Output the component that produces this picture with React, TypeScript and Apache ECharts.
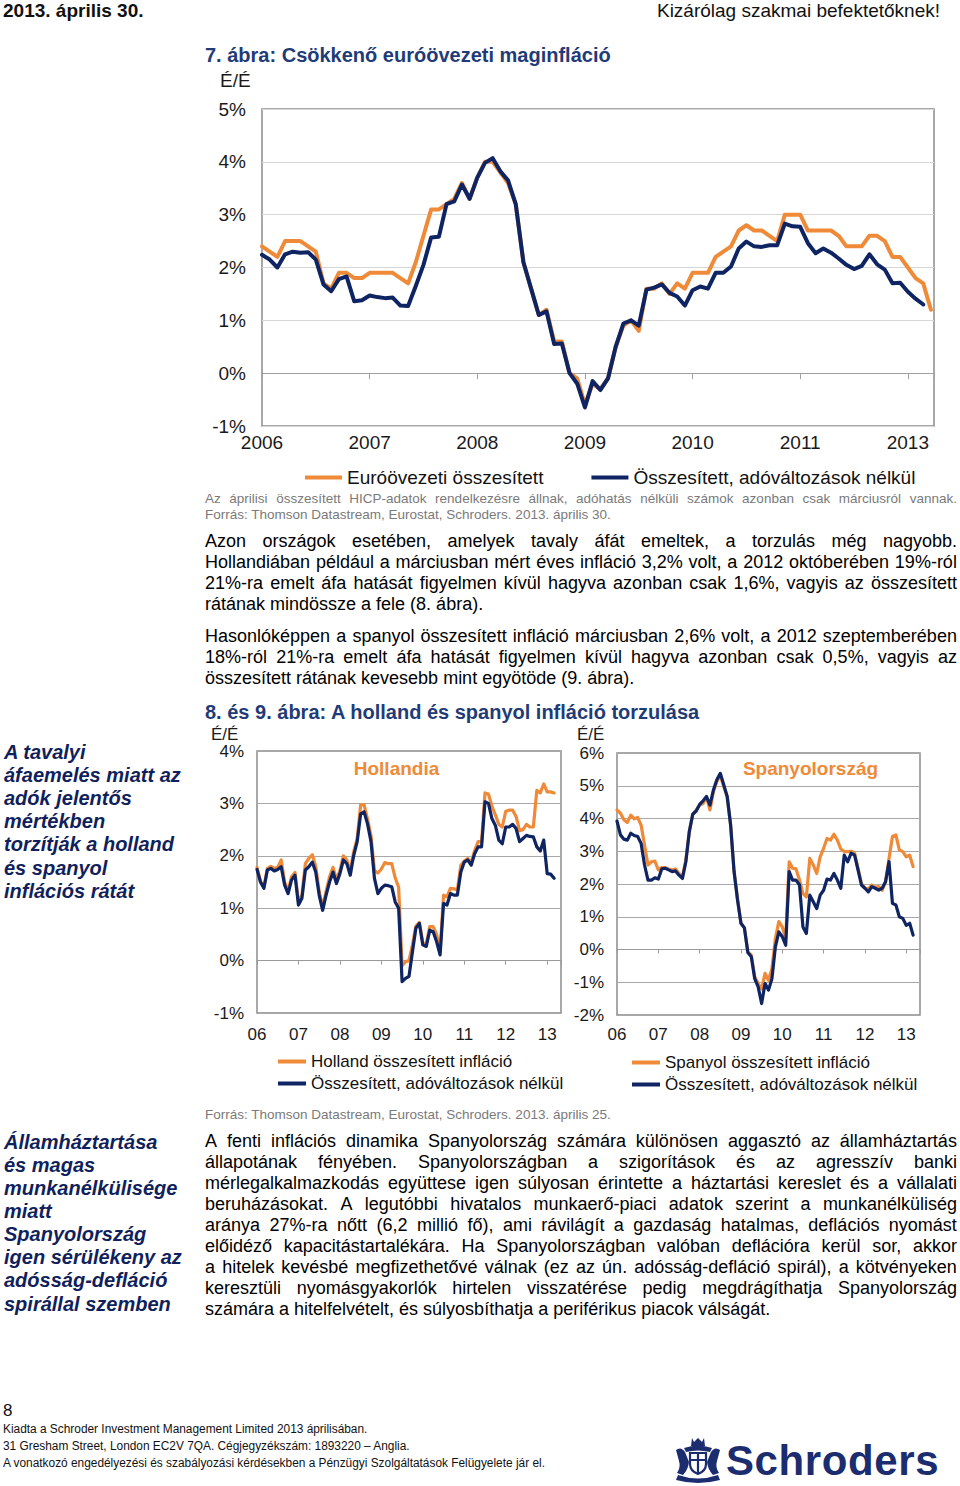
import React, { useEffect, useRef } from 'react';
import * as echarts from 'echarts';

const FONT = '"Liberation Sans", Arial, Helvetica, sans-serif';
const ORANGE = '#EE8A38';
const NAVY = '#0E2463';
const TITLE_BLUE = '#1F3C78';
const SIDE_NAVY = '#111F5C';

// ---------- data ----------
const mainTickLabels = ['2006', '2007', '2008', '2009', '2010', '2011', '2013'];
const smallTickLabels = ['06', '07', '08', '09', '10', '11', '12', '13'];

const seriesNames = {
  euroHeadline: 'Euróövezeti összesített',
  constantTax: 'Összesített, adóváltozások nélkül',
  nlHeadline: 'Holland összesített infláció',
  esHeadline: 'Spanyol összesített infláció',
};

// Eurozone, monthly Jan 2006 - Apr 2013
const euroHeadline = [
  2.4, 2.3, 2.2, 2.5, 2.5, 2.5, 2.4, 2.3, 1.7, 1.6, 1.9, 1.9,
  1.8, 1.8, 1.9, 1.9, 1.9, 1.9, 1.8, 1.7, 2.1, 2.6, 3.1, 3.1,
  3.2, 3.3, 3.6, 3.3, 3.7, 4.0, 4.0, 3.8, 3.6, 3.2, 2.1, 1.6,
  1.1, 1.2, 0.6, 0.6, 0.0, -0.1, -0.6, -0.2, -0.3, -0.1, 0.5, 0.9,
  1.0, 0.8, 1.6, 1.6, 1.7, 1.5, 1.7, 1.6, 1.9, 1.9, 1.9, 2.2,
  2.3, 2.4, 2.7, 2.8, 2.7, 2.7, 2.6, 2.5, 3.0, 3.0, 3.0, 2.7,
  2.7, 2.7, 2.7, 2.6, 2.4, 2.4, 2.4, 2.6, 2.6, 2.5, 2.2, 2.2,
  2.0, 1.8, 1.7, 1.2,
];
// Eurozone constant tax, Jan 2006 - Mar 2013
const euroConstTax = [
  2.24, 2.15, 2.0, 2.25, 2.3, 2.28, 2.29, 2.15, 1.68, 1.55, 1.78, 1.83,
  1.36, 1.38, 1.47, 1.44, 1.42, 1.43, 1.28, 1.27, 1.65, 2.05, 2.57, 2.58,
  3.2, 3.25, 3.57, 3.3, 3.7, 3.98, 4.07, 3.82, 3.65, 3.2, 2.1, 1.6,
  1.1, 1.17, 0.55, 0.56, 0.0, -0.2, -0.65, -0.15, -0.32, -0.1, 0.5, 0.94,
  1.0, 0.9, 1.58, 1.62, 1.68, 1.52, 1.45, 1.28, 1.57, 1.64, 1.6, 1.9,
  1.9, 2.02, 2.36, 2.49, 2.4, 2.39, 2.42, 2.42, 2.83, 2.78, 2.77, 2.46,
  2.27, 2.36, 2.28, 2.17, 2.05, 1.97, 2.03, 2.25, 2.06, 1.96, 1.7, 1.71,
  1.54, 1.41, 1.3,
];
// Netherlands, Jan 2006 - Mar 2013
const nlHeadline = [
  1.78, 1.52, 1.4, 1.76, 1.8, 1.76, 1.78, 1.92, 1.5, 1.33, 1.6, 1.68,
  1.12, 1.25, 1.85, 1.95, 2.02, 1.8, 1.32, 1.02, 1.32, 1.6, 1.78, 1.55,
  1.72, 2.0, 1.92, 1.7, 2.08, 2.33, 2.97, 2.97, 2.7, 2.38, 1.72, 1.67,
  1.75, 1.87, 1.85, 1.85, 1.58, 1.4, -0.1, -0.02, 0.0, 0.3, 0.66, 0.73,
  0.34, 0.32, 0.65, 0.65, 0.5, 0.18, 1.25, 1.22, 1.38, 1.37, 1.35, 1.82,
  1.9, 1.95, 1.87, 2.1, 2.27, 2.27, 3.2, 3.18, 2.95, 2.78, 2.6, 2.55,
  2.85, 2.87, 2.87, 2.75, 2.48, 2.5, 2.6, 2.55, 2.55, 3.25, 3.2, 3.37,
  3.22, 3.22, 3.2,
];
const nlConstTax = [
  1.74, 1.5, 1.38, 1.73, 1.76, 1.71, 1.74, 1.79, 1.44, 1.28, 1.54, 1.63,
  1.06, 1.19, 1.73, 1.79, 1.88, 1.69, 1.25, 0.96, 1.25, 1.5, 1.69, 1.47,
  1.66, 1.92, 1.85, 1.63, 2.01, 2.27, 2.8, 2.84, 2.61, 2.27, 1.57, 1.28,
  1.38, 1.44, 1.43, 1.41, 1.12, 1.0, -0.4, -0.34, -0.3, 0.17, 0.62, 0.71,
  0.3, 0.27, 0.58, 0.55, 0.36, 0.11, 1.09, 1.06, 1.28, 1.25, 1.25, 1.69,
  1.88, 1.92, 1.82, 2.04, 2.17, 2.17, 3.03, 3.0, 2.71, 2.58, 2.3, 2.23,
  2.55, 2.55, 2.6, 2.52, 2.27, 2.33, 2.39, 2.37, 2.36, 2.17, 2.09, 2.3,
  1.66, 1.65, 1.57,
];
// Spain, Jan 2006 - Mar 2013
const esHeadline = [
  4.26, 4.16, 3.96, 3.88, 4.1, 3.99, 4.03, 3.8, 3.19, 2.58, 2.68, 2.7,
  2.43, 2.5, 2.5, 2.46, 2.43, 2.46, 2.32, 2.22, 2.73, 3.6, 4.13, 4.26,
  4.41, 4.46, 4.67, 4.26, 4.82, 5.13, 5.33, 4.97, 4.67, 3.8, 2.38, 1.56,
  0.8, 0.66, -0.07, -0.17, -0.84, -1.04, -1.2, -0.73, -0.94, -0.58, 0.34, 0.85,
  0.69, 0.34, 2.68, 2.48, 2.46, 2.12, 1.71, 1.61, 2.78, 2.58, 2.32, 2.83,
  3.09, 3.39, 3.34, 3.52, 3.34, 3.07, 2.99, 2.99, 3.0, 2.94, 2.48, 2.02,
  1.87, 1.85, 1.97, 1.9, 1.92, 1.81, 2.07, 2.78, 3.45, 3.5, 3.04, 2.99,
  2.83, 2.88, 2.53,
];
const esConstTax = [
  3.92, 3.5, 3.37, 3.34, 3.55, 3.48, 3.45, 3.24, 2.58, 2.12, 2.12, 2.19,
  2.15, 2.46, 2.48, 2.43, 2.38, 2.4, 2.27, 2.17, 2.68, 3.6, 4.13, 4.23,
  4.43, 4.54, 4.67, 4.41, 4.87, 5.18, 5.38, 5.03, 4.67, 3.8, 2.38, 1.51,
  0.8, 0.66, -0.09, -0.22, -0.89, -1.14, -1.65, -1.04, -1.24, -0.89, 0.08, 0.54,
  0.39, 0.13, 2.38, 2.12, 2.12, 1.97, 0.69, 0.49, 1.66, 1.46, 1.25, 1.66,
  1.81, 2.15, 2.12, 2.32, 2.12, 1.87, 2.88, 2.68, 2.94, 2.88, 2.43, 1.97,
  1.87, 1.76, 1.92, 1.87, 1.81, 1.87, 2.07, 2.68, 1.41, 1.36, 1.0, 0.95,
  0.74, 0.8, 0.44,
];

// ---------- texts ----------
const headerLeft = '2013. április 30.';
const headerRight = 'Kizárólag szakmai befektetőknek!';
const chart7Title = '7. ábra: Csökkenő euróövezeti maginfláció';
const chart89Title = '8. és 9. ábra: A holland és spanyol infláció torzulása';
const note7 = [
  'Az áprilisi összesített HICP-adatok rendelkezésre állnak, adóhatás nélküli számok azonban csak márciusról vannak.',
  'Forrás: Thomson Datastream, Eurostat, Schroders. 2013. április 30.',
];
const source89 = 'Forrás: Thomson Datastream, Eurostat, Schroders. 2013. április 25.';
const para1 = [
  'Azon országok esetében, amelyek tavaly áfát emeltek, a torzulás még nagyobb.',
  'Hollandiában például a márciusban mért éves infláció 3,2% volt, a 2012 októberében 19%-ról',
  '21%-ra emelt áfa hatását figyelmen kívül hagyva azonban csak 1,6%, vagyis az összesített',
  'rátának mindössze a fele (8. ábra).',
];
const para2 = [
  'Hasonlóképpen a spanyol összesített infláció márciusban 2,6% volt, a 2012 szeptemberében',
  '18%-ról 21%-ra emelt áfa hatását figyelmen kívül hagyva azonban csak 0,5%, vagyis az',
  'összesített rátának kevesebb mint egyötöde (9. ábra).',
];
const para3 = [
  'A fenti inflációs dinamika Spanyolország számára különösen aggasztó az államháztartás',
  'állapotának fényében. Spanyolországban a szigorítások és az agresszív banki',
  'mérlegalkalmazkodás együttese igen súlyosan érintette a háztartási kereslet és a vállalati',
  'beruházásokat. A legutóbbi hivatalos munkaerő-piaci adatok szerint a munkanélküliség',
  'aránya 27%-ra nőtt (6,2 millió fő), ami rávilágít a gazdaság hatalmas, deflációs nyomást',
  'előidéző kapacitástartalékára. Ha Spanyolországban valóban deflációra kerül sor, akkor',
  'a hitelek kevésbé megfizethetővé válnak (ez az ún. adósság-defláció spirál), a kötvényeken',
  'keresztüli nyomásgyakorlók hirtelen visszatérése pedig megdrágíthatja Spanyolország',
  'számára a hitelfelvételt, és súlyosbíthatja a periférikus piacok válságát.',
];
const side1 = [
  'A tavalyi', 'áfaemelés miatt az', 'adók jelentős', 'mértékben',
  'torzítják a holland', 'és spanyol', 'inflációs rátát',
];
const side2 = [
  'Államháztartása', 'és magas', 'munkanélkülisége', 'miatt',
  'Spanyolország', 'igen sérülékeny az', 'adósság-defláció', 'spirállal szemben',
];
const footer = [
  'Kiadta a Schroder Investment Management Limited 2013 áprilisában.',
  '31 Gresham Street, London EC2V 7QA. Cégjegyzékszám: 1893220 – Anglia.',
  'A vonatkozó engedélyezési és szabályozási kérdésekben a Pénzügyi Szolgáltatások Felügyelete jár el.',
];

// ---------- option ----------
const toXY = (arr: number[]) => arr.map((v, i) => [i, v]);

function tickFormatter(labels: string[], step: number) {
  return (v: number) => {
    const k = Math.round(v / step);
    return Math.abs(v - k * step) < 1e-6 && labels[k] !== undefined ? labels[k] : '';
  };
}

function buildOption() {
  const grids = [
    { left: 262, top: 109, width: 672, height: 317 },
    { left: 257, top: 751, width: 304, height: 262 },
    { left: 617, top: 753, width: 303, height: 262 },
  ].map((g) => ({ ...g, show: true, borderColor: '#8c8c8c', borderWidth: 1.5, backgroundColor: 'transparent' }));

  const xCfg = [
    { max: 87.4, interval: 14, labels: mainTickLabels, size: 19, margin: 7, tick: 6, zeroColor: '#a0a0a0' },
    { max: 88, interval: 12, labels: smallTickLabels, size: 17, margin: 13, tick: 4, zeroColor: '#9a9a9a' },
    { max: 88, interval: 12, labels: smallTickLabels, size: 17, margin: 11, tick: 4, zeroColor: '#9a9a9a' },
  ];
  const xAxis: any[] = [];
  xCfg.forEach((c, g) => {
    xAxis.push({
      type: 'value', gridIndex: g, min: 0, max: c.max, interval: c.interval,
      axisLine: { show: true, onZero: true, lineStyle: { color: c.zeroColor, width: 1 } },
      axisTick: { show: true, length: c.tick, lineStyle: { color: c.zeroColor } },
      axisLabel: { show: false },
      splitLine: { show: false },
    });
    xAxis.push({
      type: 'value', gridIndex: g, min: 0, max: c.max, interval: c.interval, position: 'bottom',
      axisLine: { show: false, onZero: false },
      axisTick: { show: false },
      splitLine: { show: false },
      axisLabel: {
        show: true, margin: c.margin, fontSize: c.size, fontFamily: FONT, color: '#1a1a1a',
        formatter: tickFormatter(c.labels, c.interval), showMinLabel: true, showMaxLabel: true,
      },
    });
  });

  const yCfg = [
    { min: -1, max: 5, size: 19, margin: 16, split: '#d6d6d6' },
    { min: -1, max: 4, size: 17, margin: 13, split: '#a8a8a8' },
    { min: -2, max: 6, size: 17, margin: 13, split: '#a8a8a8' },
  ];
  const yAxis = yCfg.map((c, g) => ({
    type: 'value', gridIndex: g, min: c.min, max: c.max, interval: 1,
    axisLine: { show: false }, axisTick: { show: false },
    splitLine: { show: true, lineStyle: { color: c.split, width: 1 } },
    axisLabel: { margin: c.margin, fontSize: c.size, fontFamily: FONT, color: '#1a1a1a', formatter: '{value}%' },
  }));

  const line = (name: string, data: number[], color: string, g: number, width: number, z: number) => ({
    type: 'line', name, data: toXY(data), xAxisIndex: g * 2, yAxisIndex: g,
    showSymbol: false, symbol: 'none', silent: true, z,
    lineStyle: { color, width, cap: 'round', join: 'round' }, itemStyle: { color },
    emphasis: { disabled: true },
  });

  const series = [
    line(seriesNames.euroHeadline, euroHeadline, ORANGE, 0, 4, 3),
    line(seriesNames.constantTax, euroConstTax, NAVY, 0, 4, 4),
    line(seriesNames.nlHeadline, nlHeadline, ORANGE, 1, 3.2, 3),
    line(seriesNames.constantTax, nlConstTax, NAVY, 1, 3.2, 4),
    line(seriesNames.esHeadline, esHeadline, ORANGE, 2, 3.2, 3),
    line(seriesNames.constantTax, esConstTax, NAVY, 2, 3.2, 4),
  ];

  const legendText = (size: number, lh: number) => ({ fontSize: size, fontFamily: FONT, color: '#111', lineHeight: lh });
  const legend = [
    {
      data: [seriesNames.euroHeadline, seriesNames.constantTax], left: 305, top: 467, orient: 'horizontal', padding: 0,
      icon: 'rect', itemWidth: 37, itemHeight: 4, itemGap: 48, selectedMode: false, textStyle: legendText(19, 21),
    },
    {
      data: [seriesNames.nlHeadline, seriesNames.constantTax], left: 278, top: 1052, orient: 'vertical', padding: 0,
      icon: 'rect', itemWidth: 28, itemHeight: 4, itemGap: 3, selectedMode: false, textStyle: legendText(17, 19),
    },
    {
      data: [seriesNames.esHeadline, seriesNames.constantTax], left: 632, top: 1053, orient: 'vertical', padding: 0,
      icon: 'rect', itemWidth: 28, itemHeight: 4, itemGap: 3, selectedMode: false, textStyle: legendText(17, 19),
    },
  ];

  const txt = (text: string, x: number, y: number, font: string, fill: string, align = 'left') => ({
    type: 'text', x, y, silent: true,
    style: { text, font, fill, textAlign: align, textVerticalAlign: 'middle' },
  });
  const graphic = [
    txt('É/É', 220, 80, `19px ${FONT}`, '#1a1a1a'),
    txt('É/É', 211, 734, `17px ${FONT}`, '#1a1a1a'),
    txt('É/É', 577, 734, `17px ${FONT}`, '#1a1a1a'),
    txt('Hollandia', 396.5, 768, `bold 19px ${FONT}`, ORANGE, 'center'),
    txt('Spanyolország', 810.5, 768, `bold 19px ${FONT}`, ORANGE, 'center'),
  ];

  return { animation: false, grid: grids, xAxis, yAxis, series, legend, graphic };
}

// ---------- HTML text helpers ----------
type LineProps = {
  text: string; x: number; cy: number; w?: number; size: number; lh: number;
  color: string; weight?: string; italic?: boolean; justify?: boolean;
};
function TextLine({ text, x, cy, w, size, lh, color, weight, italic, justify }: LineProps) {
  const base: React.CSSProperties = {
    position: 'absolute', left: x, top: cy - lh / 2, height: lh, lineHeight: `${lh}px`,
    fontSize: size, color, fontWeight: (weight as any) || 'normal', fontStyle: italic ? 'italic' : 'normal',
    whiteSpace: 'nowrap',
  };
  if (justify && w) {
    return (
      <div style={{ ...base, width: w, display: 'flex', justifyContent: 'space-between' }}>
        {text.split(' ').map((t, i) => <span key={i}>{t}</span>)}
      </div>
    );
  }
  return <div style={base}>{text}</div>;
}

function Block(props: {
  lines: string[]; x: number; cy0: number; step: number; w: number; size: number; lh: number;
  color: string; justify: boolean; weight?: string; italic?: boolean;
}) {
  const { lines, x, cy0, step, w, size, lh, color, justify, weight, italic } = props;
  return (
    <>
      {lines.map((t, i) => (
        <TextLine key={i} text={t} x={x} cy={cy0 + i * step} w={w} size={size} lh={lh} color={color}
          weight={weight} italic={italic} justify={justify && i < lines.length - 1} />
      ))}
    </>
  );
}

function Crest() {
  return (
    <svg width="50" height="46" viewBox="0 0 50 46" style={{ position: 'absolute', left: 673, top: 1437 }}>
      <g fill="#1B2C6F" stroke="none">
        <path d="M19 1 l2 4 l4 -4 l4 4 l2 -4 l1 8 h-14 z" />
        <path d="M11 11 q14 -5 28 0 l-2 4 q-12 -3 -24 0 z" />
        <path d="M3 13 q5 -4 9 2 l4 10 q-1 8 -6 13 l-6 -2 q4 -6 2 -12 z" />
        <path d="M47 13 q-5 -4 -9 2 l-4 10 q1 8 6 13 l6 -2 q-4 -6 -2 -12 z" />
        <path d="M5 38 q20 7 40 0 l2 5 q-22 6 -44 0 z" />
      </g>
      <path d="M17 16 h16 v11 q0 7 -8 10 q-8 -3 -8 -10 z" fill="#fff" stroke="#1B2C6F" strokeWidth="2.2" />
      <path d="M25 17 v19 M18 23 h14" stroke="#1B2C6F" strokeWidth="2.2" />
    </svg>
  );
}

export default function App() {
  const ref = useRef<HTMLDivElement>(null);
  useEffect(() => {
    if (!ref.current) return;
    const chart = echarts.init(ref.current, null, { renderer: 'svg' });
    chart.setOption(buildOption() as any);
    return () => chart.dispose();
  }, []);

  const BODY = 18;
  return (
    <div style={{ position: 'absolute', left: 0, top: 0, width: 960, height: 1486, background: '#fff', fontFamily: FONT, overflow: 'hidden', color: '#000' }}>
      <div ref={ref} style={{ position: 'absolute', left: 0, top: 0, width: 960, height: 1486 }} />

      <TextLine text={headerLeft} x={3} cy={11} size={19} lh={22} color="#111" weight="bold" />
      <div style={{ position: 'absolute', right: 20, top: 0, height: 22, lineHeight: '22px', fontSize: 19, color: '#111', whiteSpace: 'nowrap' }}>{headerRight}</div>

      <TextLine text={chart7Title} x={205} cy={55} size={20} lh={24} color={TITLE_BLUE} weight="bold" />

      <Block lines={note7} x={205} cy0={499} step={16} w={752} size={13.5} lh={16} color="#7a7a7a" justify />
      <Block lines={para1} x={205} cy0={541} step={21} w={752} size={BODY} lh={21} color="#000" justify />
      <Block lines={para2} x={205} cy0={636} step={21} w={752} size={BODY} lh={21} color="#000" justify />
      <TextLine text={chart89Title} x={205} cy={712} size={20} lh={24} color={TITLE_BLUE} weight="bold" />
      <TextLine text={source89} x={205} cy={1115} size={13.5} lh={16} color="#7a7a7a" />
      <Block lines={para3} x={205} cy0={1141} step={21} w={752} size={BODY} lh={21} color="#000" justify />

      <Block lines={side1} x={4} cy0={752} step={23.2} w={195} size={20} lh={23} color={SIDE_NAVY} justify={false} weight="bold" italic />
      <Block lines={side2} x={4} cy0={1142} step={23.15} w={195} size={20} lh={23} color={SIDE_NAVY} justify={false} weight="bold" italic />

      <TextLine text="8" x={3} cy={1411} size={17} lh={20} color="#111" />
      {footer.map((t, i) => (
        <div key={i} style={{ position: 'absolute', left: 3, top: 1429 + i * 17 - 8, height: 16, lineHeight: '16px', fontSize: 12.5, color: '#111', whiteSpace: 'nowrap', transform: 'scaleX(0.95)', transformOrigin: 'left center' }}>{t}</div>
      ))}

      <Crest />
      <div style={{ position: 'absolute', left: 726, top: 1436, height: 50, lineHeight: '50px', fontSize: 42, fontWeight: 'bold', color: '#1B2C6F', whiteSpace: 'nowrap', letterSpacing: 0.6 }}>Schroders</div>
    </div>
  );
}
